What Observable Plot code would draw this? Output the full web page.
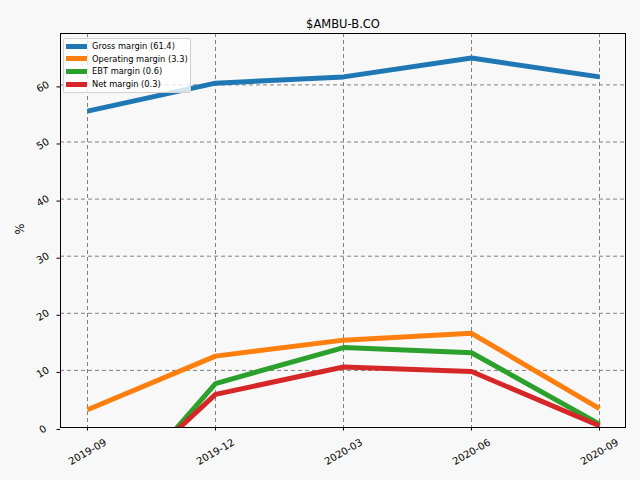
<!DOCTYPE html>
<html>
<head>
<meta charset="utf-8">
<script src="https://cdn.jsdelivr.net/npm/d3@7"></script>
<script src="https://cdn.jsdelivr.net/npm/@observablehq/plot@0.6"></script>
<style>
  html, body { margin: 0; padding: 0; background: #f8f8f8; }
  #wrap { position: relative; width: 640px; height: 480px; font-family: "DejaVu Sans", sans-serif; }
  #legend { position: absolute; left: 63px; top: 38px; width: 126px; height: 53px;
    background: rgba(255,255,255,0.8); border: 1px solid #d0d0d0; border-radius: 2px;
    font-size: 8.3px; color: #000; }
  .item { position: absolute; left: 2px; height: 10px; display: flex; align-items: center; }
  .sw { width: 21px; height: 5px; margin-right: 5px; }
</style>
</head>
<body>
<div id="wrap"><div id="legend"></div></div>
<script>
const periods = ["2019-09", "2019-12", "2020-03", "2020-06", "2020-09"];
const seriesNames = ["Gross margin", "Operating margin", "EBT margin", "Net margin"];
const legendLabels = ["Gross margin (61.4)", "Operating margin (3.3)", "EBT margin (0.6)", "Net margin (0.3)"];
const colors = ["#1f77b4", "#ff7f0e", "#2ca02c", "#d62728"];
const grossMargin = [55.4, 60.3, 61.4, 64.7, 61.4];
const operatingMargin = [3.1, 12.5, 15.3, 16.5, 3.3];
const ebtMargin = [-18.0, 7.7, 14.0, 13.1, 0.6];
const netMargin = [-15.0, 5.8, 10.6, 9.8, 0.3];
const yTicks = [0, 10, 20, 30, 40, 50, 60];
const title = "$AMBU-B.CO";

const seriesValues = [grossMargin, operatingMargin, ebtMargin, netMargin];
const data = seriesNames.flatMap((s, i) => periods.map((p, j) => ({series: s, period: p, value: seriesValues[i][j]})));

const chart = Plot.plot({
  width: 640,
  height: 480,
  marginLeft: 60,
  marginRight: 15,
  marginTop: 33,
  marginBottom: 53,
  style: {background: "#f8f8f8", fontFamily: "DejaVu Sans, sans-serif", color: "#000"},
  x: {type: "point", domain: periods, padding: 0.2},
  y: {domain: [0, 69]},
  color: {domain: seriesNames, range: colors},
  marks: [
    Plot.gridX(periods, {stroke: "#808080", strokeOpacity: 1, strokeDasharray: "4,3", strokeWidth: 1}),
    Plot.gridY(yTicks.slice(1), {stroke: "#808080", strokeOpacity: 1, strokeDasharray: "4,3", strokeWidth: 1}),
    Plot.lineY(data, {x: "period", y: "value", z: "series", stroke: "series", strokeWidth: 5, clip: true, strokeLinejoin: "miter", strokeLinecap: "butt"}),
    Plot.frame({stroke: "#000", strokeWidth: 1}),
    Plot.axisX(periods, {tickSize: 3.5, tickRotate: -30, textAnchor: "middle", lineAnchor: "middle", tickPadding: 21, fontSize: 10, label: null}),
    Plot.axisY(yTicks, {tickSize: 3.5, tickRotate: -30, textAnchor: "middle", lineAnchor: "middle", tickPadding: 14, dy: 2, fontSize: 10, label: null}),
    Plot.text([title], {frameAnchor: "top", dy: -14, fontSize: 11.5, fill: "#000"}),
    Plot.text(["%"], {frameAnchor: "left", dx: -40, dy: 4, rotate: -90, fontSize: 11.5, fill: "#000"})
  ]
});
document.getElementById("wrap").prepend(chart);
chart.style.display = "block";

const legend = document.getElementById("legend");
legendLabels.forEach((lab, i) => {
  const it = document.createElement("div");
  it.className = "item";
  it.style.top = (2 + i * 12.7) + "px";
  const sw = document.createElement("div");
  sw.className = "sw";
  sw.style.background = colors[i];
  const tx = document.createElement("span");
  tx.textContent = lab;
  it.append(sw, tx);
  legend.append(it);
});
</script>
</body>
</html>
